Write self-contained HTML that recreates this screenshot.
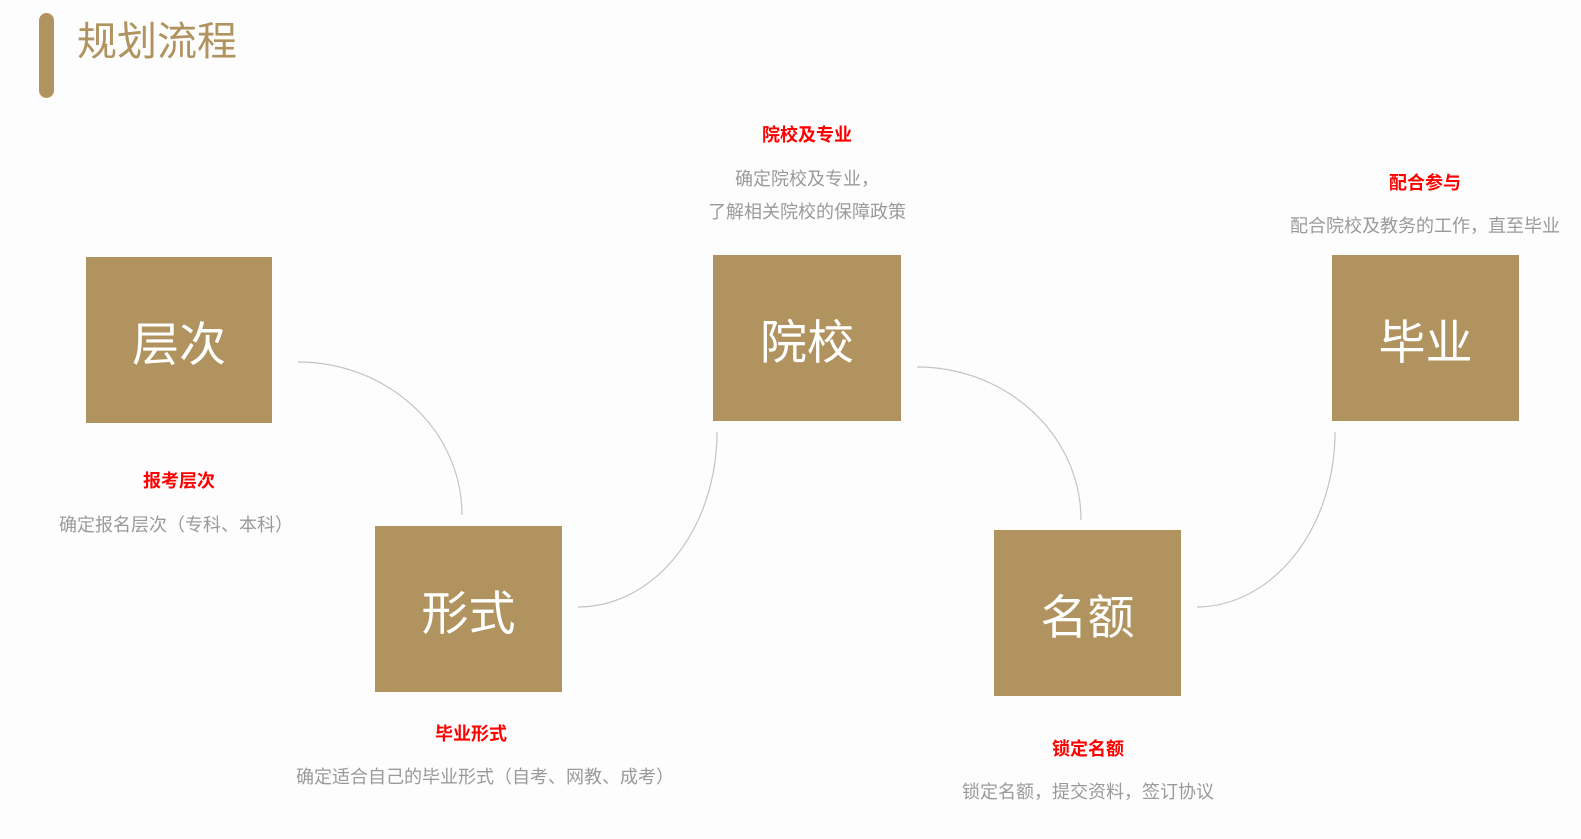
<!DOCTYPE html>
<html><head><meta charset="utf-8"><style>
body{margin:0;width:1581px;height:839px;background:#fdfdfd;position:relative;overflow:hidden;font-family:"Liberation Sans","Noto Sans CJK SC",sans-serif}
.bar{position:absolute;left:39px;top:13px;width:15px;height:85px;border-radius:8px;background:#b0935e}
.title{position:absolute;left:77px;top:14px;font-size:40px;color:#b0935e;line-height:56px}
.box{position:absolute;background:#b0935e;color:#fff;font-size:47px;display:flex;align-items:center;justify-content:center}
.t{position:absolute;color:#f00;font-weight:bold;font-size:18px;text-align:center;white-space:nowrap;transform:translateX(-50%)}
.d{position:absolute;color:#9a9a9a;font-size:18px;text-align:center;white-space:nowrap;transform:translateX(-50%);line-height:33px}
</style></head><body>
<div class="bar"></div><div class="title">规划流程</div>
<svg width="1581" height="839" style="position:absolute;left:0;top:0" fill="none" stroke="#c4c4c4" stroke-width="1.2">
<path d="M298,362 A164,153 0 0 1 462,515"/>
<path d="M717,432 A139,175 0 0 1 578,607"/>
<path d="M917,367 A164,153 0 0 1 1081,520"/>
<path d="M1335,432 A139,175 0 0 1 1197,607"/>
</svg>
<div class="box" style="left:86px;top:257px;width:186px;height:166px">层次</div>
<div class="box" style="left:375px;top:526px;width:187px;height:166px">形式</div>
<div class="box" style="left:713px;top:255px;width:188px;height:166px">院校</div>
<div class="box" style="left:994px;top:530px;width:187px;height:166px">名额</div>
<div class="box" style="left:1332px;top:255px;width:187px;height:166px">毕业</div>
<div class="t" style="left:179px;top:467px">报考层次</div>
<div class="d" style="left:176px;top:509px">确定报名层次（专科、本科）</div>
<div class="t" style="left:471px;top:720px">毕业形式</div>
<div class="d" style="left:485px;top:761px">确定适合自己的毕业形式（自考、网教、成考）</div>
<div class="t" style="left:807px;top:121px">院校及专业</div>
<div class="d" style="left:807px;top:163px">确定院校及专业，<br>了解相关院校的保障政策</div>
<div class="t" style="left:1088px;top:735px">锁定名额</div>
<div class="d" style="left:1088px;top:776px">锁定名额，提交资料，签订协议</div>
<div class="t" style="left:1425px;top:169px">配合参与</div>
<div class="d" style="left:1425px;top:210px">配合院校及教务的工作，直至毕业</div>
</body></html>
